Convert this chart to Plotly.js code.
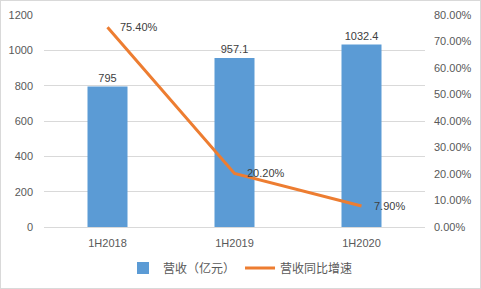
<!DOCTYPE html>
<html><head><meta charset="utf-8">
<script src="https://cdn.plot.ly/plotly-3.0.1.min.js"></script>
<style>body{margin:0;}#c{width:479px;height:287px;border:1px solid #d9d9d9;}</style>
</head><body><div id="c"></div>
<script>
const categories = ['1H2018','1H2019','1H2020'];
const revenue = [795, 957.1, 1032.4];
const growth = [0.754, 0.202, 0.079];
const growthLabels = ['75.40%','20.20%','7.90%'];
const barName = '营收（亿元）';
const lineName = '营收同比增速';
const fontFam = '"Liberation Sans","Noto Sans CJK SC",sans-serif';
const data = [
 {type:'bar', x:categories, y:revenue, name:barName, marker:{color:'#5b9bd5'}, width:0.315,
  text:revenue.map(String), textposition:'outside', cliponaxis:false,
  textfont:{size:11,color:'#404040',family:fontFam}, hoverinfo:'none'},
 {type:'scatter', mode:'lines', x:categories, y:growth, name:lineName, yaxis:'y2',
  line:{color:'#ed7d31',width:3}, hoverinfo:'none'}
];
const annotations = categories.map((c,i)=>({x:c, y:growth[i], yref:'y2', xref:'x', text:growthLabels[i],
  showarrow:false, xanchor:'left', yanchor:'middle', xshift:10, font:{size:11,color:'#404040',family:fontFam}}));
const layout = {
 width:479, height:287, margin:{l:43,r:55,t:14,b:61},
 paper_bgcolor:'#fff', plot_bgcolor:'#fff',
 font:{family:fontFam, size:11, color:'#595959'},
 bargap:0.685,
 xaxis:{type:'category', showgrid:false, showline:true, linecolor:'#d9d9d9', ticks:'', automargin:false, ticklabelstandoff:6, tickfont:{size:11,color:'#595959'}},
 yaxis:{range:[0,1200], dtick:200, gridcolor:'#d9d9d9', zeroline:false, showline:false, ticks:'', automargin:false, ticklabelstandoff:10, tickfont:{size:11,color:'#595959'}},
 yaxis2:{range:[0,0.8], dtick:0.1, tickformat:'.2%', overlaying:'y', side:'right', showgrid:false, zeroline:false, showline:false, ticks:'', automargin:false, ticklabelstandoff:8, tickfont:{size:11,color:'#595959'}},
 showlegend:true,
 legend:{orientation:'h', x:0.5, xanchor:'center', xref:'container', y:0.07, yref:'container', yanchor:'middle', font:{size:12,color:'#595959',family:fontFam}, itemwidth:30},
 annotations:annotations
};
Plotly.newPlot('c', data, layout, {displayModeBar:false, staticPlot:true});
</script></body></html>
